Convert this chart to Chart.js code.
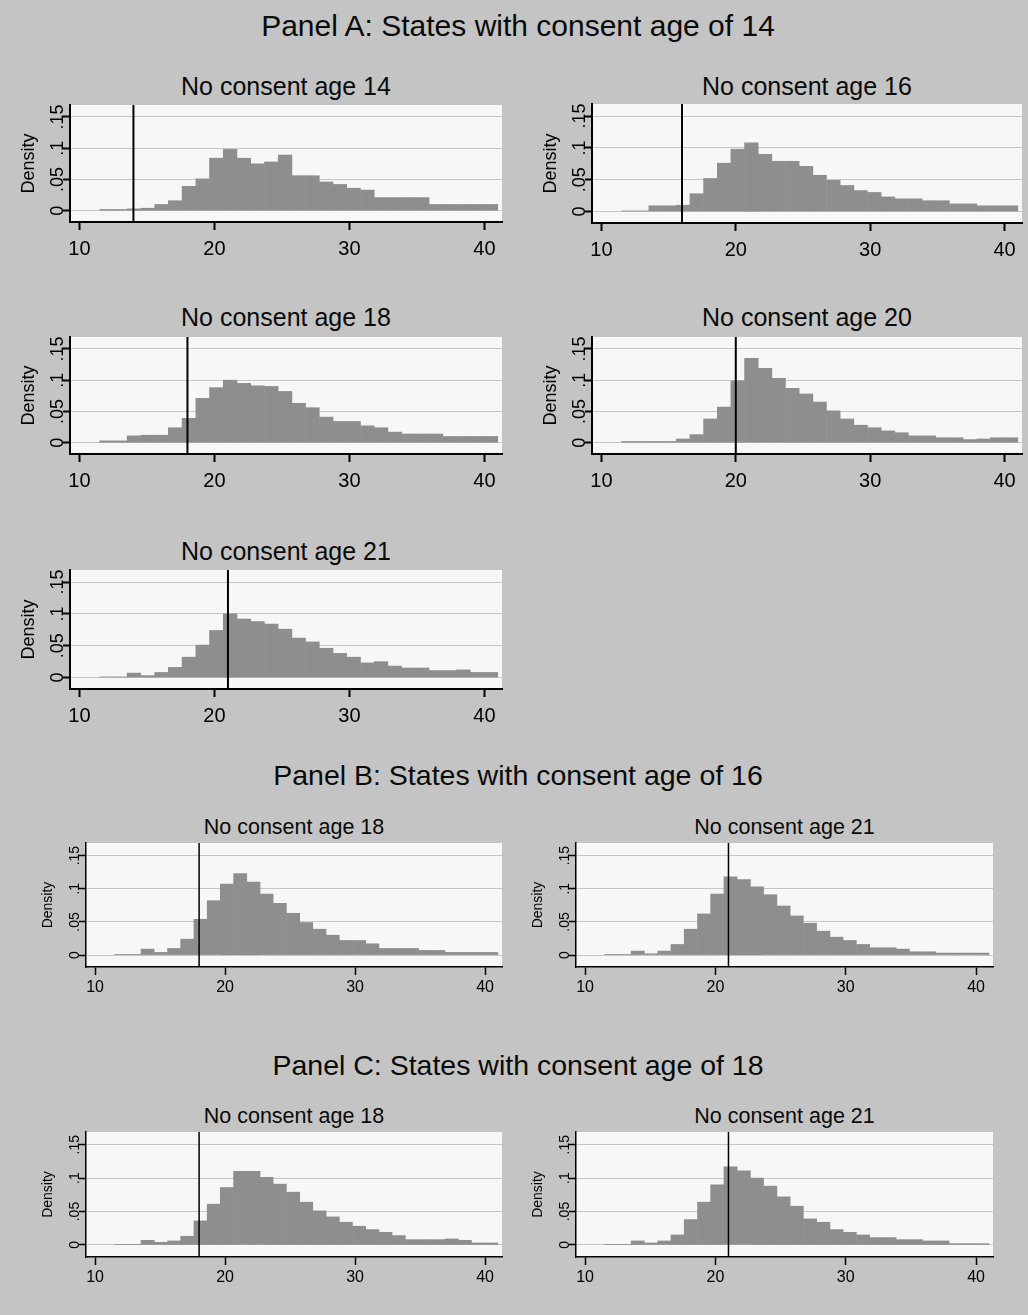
<!DOCTYPE html>
<html>
<head>
<meta charset="utf-8">
<script src="https://cdn.jsdelivr.net/npm/chart.js@4.4.1/dist/chart.umd.min.js"></script>
<style>
  html, body { margin: 0; padding: 0; background: #c4c4c4; }
  #page { position: relative; width: 1028px; height: 1315px; background: #c4c4c4; overflow: hidden;
          font-family: "Liberation Sans", Arial, sans-serif; color: #0a0a0a; }
  .ptitle { position: absolute; left: 0; width: 1028px; text-align: center; line-height: 1; white-space: nowrap; }
  .stitle { position: absolute; text-align: center; line-height: 1; white-space: nowrap; }
  canvas { position: absolute; }
</style>
</head>
<body>
<div id="page"></div>
<script>
/* ---- data ---- */
const binCenters = [12.01, 13.03, 14.04, 15.06, 16.08, 17.09, 18.11, 19.13, 20.14, 21.16,
                    22.18, 23.19, 24.21, 25.23, 26.24, 27.26, 28.28, 29.29, 30.31, 31.33,
                    32.34, 33.36, 34.38, 35.39, 36.41, 37.43, 38.44, 39.46, 40.48];
const xTicks      = [10, 20, 30, 40];
const yTicks      = [0, 0.05, 0.1, 0.15];
const yTickLabels = ['0', '.05', '.1', '.15'];

const panelTitles = [
  'Panel A: States with consent age of 14',
  'Panel B: States with consent age of 16',
  'Panel C: States with consent age of 18',
];
const chartTitles = [
  'No consent age 14', 'No consent age 16', 'No consent age 18', 'No consent age 20', 'No consent age 21',
  'No consent age 18', 'No consent age 21',
  'No consent age 18', 'No consent age 21',
];
const cutoffAges = [14, 16, 18, 20, 21, 18, 21, 18, 21];

// Panel A (consent age 14)
const densA14 = [0.002,0.002,0.003,0.004,0.010,0.016,0.039,0.051,0.084,0.098,0.084,0.075,0.078,0.089,0.056,0.056,0.046,0.042,0.036,0.033,0.021,0.021,0.021,0.021,0.010,0.010,0.010,0.010,0.010];
const densA16 = [0.001,0.001,0.009,0.009,0.010,0.028,0.052,0.076,0.098,0.108,0.090,0.079,0.079,0.071,0.057,0.049,0.041,0.033,0.030,0.023,0.020,0.020,0.017,0.017,0.012,0.012,0.009,0.009,0.009];
const densA18 = [0.003,0.003,0.011,0.012,0.012,0.024,0.039,0.071,0.088,0.100,0.095,0.091,0.090,0.082,0.063,0.056,0.041,0.034,0.034,0.027,0.024,0.017,0.014,0.014,0.014,0.010,0.010,0.010,0.010];
const densA20 = [0.002,0.002,0.002,0.002,0.006,0.013,0.038,0.057,0.099,0.135,0.119,0.103,0.087,0.078,0.065,0.051,0.038,0.028,0.024,0.019,0.016,0.011,0.011,0.008,0.008,0.005,0.006,0.008,0.008];
const densA21 = [0.001,0.001,0.007,0.003,0.008,0.016,0.032,0.051,0.074,0.100,0.092,0.088,0.084,0.076,0.062,0.056,0.046,0.038,0.032,0.023,0.025,0.018,0.015,0.015,0.011,0.011,0.012,0.008,0.008];
// Panel B (consent age 16)
const densB18 = [0.001,0.001,0.009,0.004,0.010,0.024,0.054,0.082,0.107,0.123,0.110,0.092,0.078,0.063,0.049,0.039,0.030,0.022,0.022,0.017,0.010,0.010,0.010,0.007,0.007,0.004,0.004,0.004,0.004];
const densB21 = [0.001,0.001,0.006,0.002,0.006,0.016,0.039,0.062,0.092,0.118,0.114,0.103,0.091,0.074,0.059,0.048,0.036,0.027,0.022,0.016,0.011,0.011,0.009,0.005,0.005,0.003,0.003,0.003,0.003];
// Panel C (consent age 18)
const densC18 = [0.001,0.001,0.007,0.004,0.006,0.013,0.036,0.061,0.086,0.110,0.110,0.101,0.091,0.079,0.064,0.051,0.042,0.034,0.028,0.023,0.019,0.014,0.008,0.008,0.008,0.009,0.007,0.003,0.003];
const densC21 = [0.001,0.001,0.006,0.003,0.006,0.015,0.038,0.064,0.090,0.117,0.111,0.100,0.088,0.072,0.058,0.039,0.034,0.023,0.019,0.015,0.011,0.011,0.008,0.008,0.006,0.006,0.002,0.002,0.002];

const seriesList = [densA14, densA16, densA18, densA20, densA21, densB18, densB21, densC18, densC21];

/* ---- layout (page pixels) ---- */
const FONT = '"Liberation Sans", Arial, sans-serif';
const big   = { sub: 25,   xTick: 20, yTick: 18, yTitle: 18, axisW: 2,   xPad: 7, tickDist: 12, titleDist: 41 };
const small = { sub: 21.5, xTick: 16, yTick: 14, yTitle: 14, axisW: 1.5, xPad: 3, tickDist: 11, titleDist: 38 };

const panelTitlePos = [ { cy: 26, size: 30 }, { cy: 775, size: 28.5 }, { cy: 1065, size: 28.5 } ];

// cx = canvas left, plot = l,r,t,b of plot region, subY = caption centre
const layout = [
  { cx: 0,   plot: [70, 502, 105, 222],   subY: 86,   st: big },
  { cx: 510, plot: [592, 1022, 104, 223], subY: 86,   st: big },
  { cx: 0,   plot: [70, 502, 337, 454],   subY: 317,  st: big },
  { cx: 510, plot: [592, 1022, 337, 454], subY: 317,  st: big },
  { cx: 0,   plot: [70, 502, 570, 689],   subY: 551,  st: big },
  { cx: 0,   plot: [86, 502, 843, 967],   subY: 828,  st: small },
  { cx: 510, plot: [576, 993, 843, 967],  subY: 828,  st: small },
  { cx: 0,   plot: [86, 502, 1132, 1257], subY: 1117, st: small },
  { cx: 510, plot: [576, 993, 1132, 1257], subY: 1117, st: small },
];

const page = document.getElementById('page');

panelTitles.forEach((t, i) => {
  const d = document.createElement('div');
  d.className = 'ptitle';
  d.textContent = t;
  d.style.fontSize = panelTitlePos[i].size + 'px';
  d.style.top = (panelTitlePos[i].cy - 0.49 * panelTitlePos[i].size) + 'px';
  d.style.left = '4px';
  page.appendChild(d);
});

/* ── plot region fill ── */
const plotFill = {
  id: 'plotFill',
  beforeDraw(chart) {
    const { ctx, chartArea: a } = chart;
    ctx.save();
    ctx.fillStyle = '#f7f7f7';
    ctx.fillRect(a.left, a.top, a.right - a.left, a.bottom - a.top);
    ctx.restore();
  }
};

/* ── vertical line at the consent age ── */
const cutoffLine = {
  id: 'cutoffLine',
  afterDatasetsDraw(chart, args, opts) {
    const { ctx, chartArea: a, scales } = chart;
    const x = scales.x.getPixelForValue(opts.age);
    ctx.save();
    ctx.strokeStyle = '#000';
    ctx.lineWidth = opts.width;
    ctx.beginPath();
    ctx.moveTo(x, a.top);
    ctx.lineTo(x, a.bottom);
    ctx.stroke();
    ctx.restore();
  }
};

layout.forEach((L, i) => {
  const st = L.st;
  const [pl, pr, pt, pb] = L.plot;
  const top = pt - 8;
  const height = (pb - top) + (st === big ? 42 : 34);
  const width = (L.cx === 0 ? 510 : 518);

  // caption
  const cap = document.createElement('div');
  cap.className = 'stitle';
  cap.textContent = chartTitles[i];
  cap.style.fontSize = st.sub + 'px';
  cap.style.left = pl + 'px';
  cap.style.width = (pr - pl) + 'px';
  cap.style.top = (L.subY - 0.49 * st.sub) + 'px';
  page.appendChild(cap);

  const canvas = document.createElement('canvas');
  canvas.width = width;
  canvas.height = height;
  canvas.style.left = L.cx + 'px';
  canvas.style.top = top + 'px';
  page.appendChild(canvas);

  const yAxisW = pl - L.cx;
  const xAxisH = (top + height) - pb;
  const yTickHalf = st.yTick * 1.39 / 2;

  new Chart(canvas, {
    type: 'bar',
    data: {
      datasets: [{
        data: binCenters.map((c, k) => ({ x: c, y: seriesList[i][k] })),
        backgroundColor: '#8e8e8e',
        borderWidth: 0,
        barPercentage: 1,
        categoryPercentage: 1,
      }],
    },
    options: {
      responsive: false,
      animation: false,
      layout: { padding: { left: 0, top: pt - top, right: (L.cx + width) - pr, bottom: 0 } },
      plugins: {
        legend: { display: false },
        tooltip: { enabled: false },
        cutoffLine: { age: cutoffAges[i], width: st.axisW },
      },
      scales: {
        x: {
          type: 'linear',
          min: 9.3, max: 41.3,
          offset: false,
          afterBuildTicks: s => { s.ticks = xTicks.map(v => ({ value: v })); },
          afterFit: s => { s.height = xAxisH; },
          ticks: { color: '#000', padding: st.xPad, maxRotation: 0, font: { family: FONT, size: st.xTick },
                   callback: v => String(v) },
          grid: { offset: false, drawOnChartArea: false, tickLength: 8, tickColor: '#000', tickWidth: st.axisW },
          border: { display: true, color: '#000', width: st.axisW },
        },
        y: {
          min: -0.018, max: 0.169,
          afterBuildTicks: s => { s.ticks = yTicks.map(v => ({ value: v })); },
          afterFit: s => { s.width = yAxisW; },
          ticks: {
            color: '#000', minRotation: 90, maxRotation: 90, crossAlign: 'center',
            padding: st.tickDist - 7 - yTickHalf,
            font: { family: FONT, size: st.yTick },
            callback: (v, k) => yTickLabels[k],
          },
          grid: { color: '#c6c6c6', lineWidth: 1, tickLength: 7, tickColor: '#000', tickWidth: st.axisW },
          border: { display: true, color: '#000', width: st.axisW },
          title: {
            display: true, text: 'Density', color: '#000',
            font: { family: FONT, size: st.yTitle },
            padding: { top: yAxisW - st.titleDist - st.yTitle * 0.6, bottom: 0 },
          },
        },
      },
    },
    plugins: [plotFill, cutoffLine],
  });
});
</script>
</body>
</html>
